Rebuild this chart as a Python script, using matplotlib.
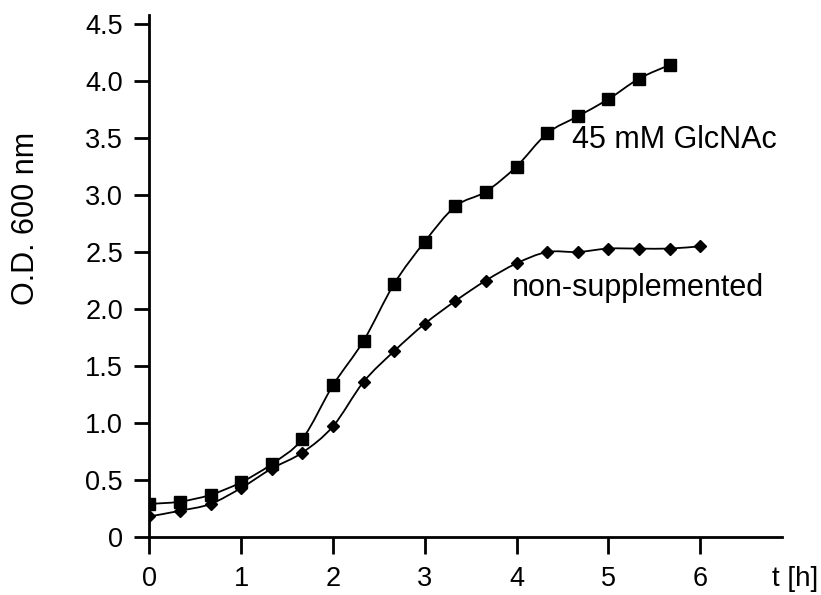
import numpy as np
import matplotlib
matplotlib.use("Agg")
import matplotlib.pyplot as plt
from matplotlib.path import Path
from matplotlib.patches import PathPatch

plt.rcParams['font.family'] = ['Liberation Sans', 'DejaVu Sans']

# time points every 20 min
t_glcnac = np.arange(18) / 3.0
od_glcnac = [0.29, 0.31, 0.37, 0.48, 0.64, 0.86, 1.33, 1.72, 2.22, 2.59,
             2.90, 3.03, 3.25, 3.54, 3.69, 3.84, 4.02, 4.14]

t_plain = np.arange(19) / 3.0
od_plain = [0.18, 0.23, 0.29, 0.43, 0.60, 0.74, 0.97, 1.36, 1.63, 1.87,
            2.07, 2.25, 2.40, 2.50, 2.50, 2.53, 2.53, 2.53, 2.55]

xticks = [0, 1, 2, 3, 4, 5, 6]
yticks = [0, 0.5, 1.0, 1.5, 2.0, 2.5, 3.0, 3.5, 4.0, 4.5]
ytick_labels = ['0', '0.5', '1.0', '1.5', '2.0', '2.5', '3.0', '3.5', '4.0', '4.5']


def smooth_path(x, y):
    # catmull-rom through the points, as cubic bezier segments
    x = np.asarray(x, float)
    y = np.asarray(y, float)
    verts = [(x[0], y[0])]
    codes = [Path.MOVETO]
    n = len(x)
    for i in range(n - 1):
        i0 = max(i - 1, 0)
        i3 = min(i + 2, n - 1)
        c1 = (x[i] + (x[i + 1] - x[i0]) / 6, y[i] + (y[i + 1] - y[i0]) / 6)
        c2 = (x[i + 1] - (x[i3] - x[i]) / 6, y[i + 1] - (y[i3] - y[i]) / 6)
        verts += [c1, c2, (x[i + 1], y[i + 1])]
        codes += [Path.CURVE4] * 3
    return Path(verts, codes)


fig = plt.figure(figsize=(8.21, 5.95), dpi=100)
ax = fig.add_axes([149.3 / 821, 1 - 537 / 595, (782 - 149.3) / 821, (537 - 15) / 595])

for tt, od, mk, ms in [(t_glcnac, od_glcnac, 's', 8.5), (t_plain, od_plain, 'D', 6.5)]:
    ax.add_patch(PathPatch(smooth_path(tt, od), fill=False, edgecolor='black', lw=1.3))
    ax.plot(tt, od, linestyle='none', marker=mk, markersize=ms, color='black')

ax.set_xlim(0, (782 - 149.3) / 91.8)
ax.set_ylim(0, (537 - 15) / 114.0)
ax.set_xticks(xticks)
ax.set_yticks(yticks)
ax.set_yticklabels(ytick_labels)

for s in ['top', 'right']:
    ax.spines[s].set_visible(False)
for s in ['left', 'bottom']:
    ax.spines[s].set_linewidth(2)
ax.tick_params(axis='both', direction='out', width=2, labelsize=19.5)
ax.tick_params(axis='x', length=12, pad=9)
ax.tick_params(axis='y', length=11, pad=8)

ax.text(4.60, 3.41, '45 mM GlcNAc', fontsize=22, ha='left', va='baseline')
ax.text(3.95, 2.11, 'non-supplemented', fontsize=22, ha='left', va='baseline')

fig.text(26 / 821, 1 - 218 / 595, 'O.D. 600 nm', rotation=90, fontsize=22,
         ha='center', va='center')
fig.text(772 / 821, 1 - 579 / 595, 't [h]', fontsize=20, ha='left', va='center')

fig.savefig('out.png', dpi=100)
